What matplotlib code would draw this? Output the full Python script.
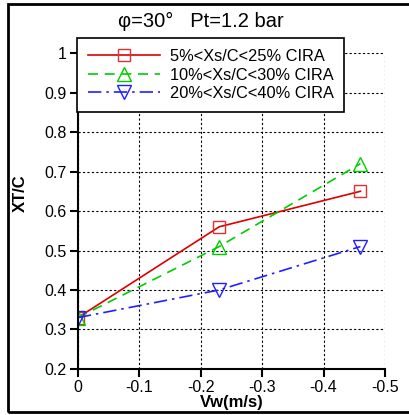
import matplotlib.pyplot as plt
from matplotlib.patches import Rectangle

plt.rcParams['font.family'] = ['Liberation Sans', 'DejaVu Sans']

vw = [0, -0.23, -0.46]
xt_5_25 = [0.33, 0.56, 0.65]
xt_10_30 = [0.33, 0.51, 0.72]
xt_20_40 = [0.33, 0.40, 0.51]
labels = ['5%<Xs/C<25% CIRA', '10%<Xs/C<30% CIRA', '20%<Xs/C<40% CIRA']

fig = plt.figure(figsize=(4.1, 4.15), dpi=100)
ax = fig.add_axes([0.19, 0.111, 0.749, 0.761])

ax.plot(vw, xt_5_25, color='#dd0000', linestyle='-', lw=1.2, marker='s', ms=8.5,
        mfc='none', mec='#e03030', mew=1, label=labels[0])
ax.plot(vw, xt_10_30, color='#00cc00', linestyle=(0, (6, 4)), lw=1.2, marker='^', ms=10,
        mfc='none', mec='#00cc00', mew=1, label=labels[1])
ax.plot(vw, xt_20_40, color='#2020ff', linestyle=(0, (8, 3, 1.5, 3)), lw=1.2, marker='v', ms=10,
        mfc='none', mec='#2020ff', mew=1, label=labels[2])

ax.set_xlim(0, -0.5)
ax.set_ylim(0.2, 1.0)
ax.set_xticks([0, -0.1, -0.2, -0.3, -0.4, -0.5])
ax.set_xticklabels(['0', '-0.1', '-0.2', '-0.3', '-0.4', '-0.5'])
ax.set_yticks([0.2, 0.3, 0.4, 0.5, 0.6, 0.7, 0.8, 0.9, 1.0])
ax.set_yticklabels(['0.2', '0.3', '0.4', '0.5', '0.6', '0.7', '0.8', '0.9', '1'])
ax.grid(True, color='black', linestyle=(0, (2, 2)), lw=0.8)
for s in ['top', 'right']:
    ax.spines[s].set_visible(False)
for s in ['left', 'bottom']:
    ax.spines[s].set_linewidth(1.5)
ax.tick_params(direction='out', length=6, width=1.5, labelsize=11.5, pad=2)

ax.set_xlabel('Vw(m/s)', fontsize=12, fontweight='bold', labelpad=0)
ax.set_ylabel('XT/C', fontsize=12, fontweight='bold')
ax.yaxis.set_label_coords(-0.163, 0.557)

fig.text(0.49, 0.948, 'φ=30°   Pt=1.2 bar', ha='center', va='center', fontsize=14.5)

leg = ax.legend(loc='upper left', bbox_to_anchor=(-0.003, 1.047), fontsize=11.8,
                handlelength=4.4, frameon=True, fancybox=False, framealpha=1,
                edgecolor='black', borderpad=0.65, labelspacing=0.22, handletextpad=0.6,
                borderaxespad=0)
leg.get_frame().set_linewidth(1.2)

fig.patches.append(Rectangle((0.02, 0.007), 1.0, 0.983, transform=fig.transFigure,
                             fill=False, edgecolor='black', lw=2))

fig.savefig('out.png', dpi=100)
